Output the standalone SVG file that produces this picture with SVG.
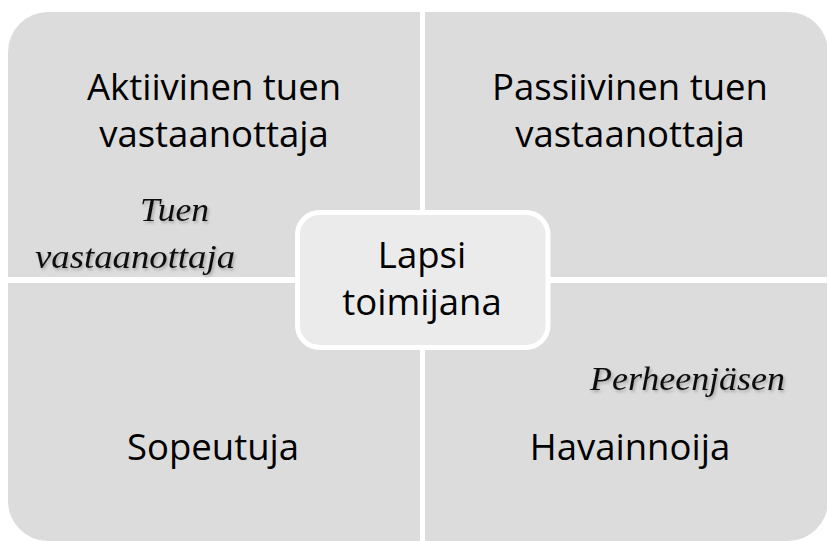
<svg xmlns="http://www.w3.org/2000/svg" width="827" height="541" viewBox="0 0 827 541">
  <defs>
    <style>
      .quad { fill: #dcdcdc; }
      .main { font-family: "Open Sans", "Noto Sans", sans-serif; font-size: 36.5px; fill: #000; text-anchor: middle; }
      .ital { font-family: "Liberation Serif", "Times New Roman", serif; font-style: italic; font-size: 34px; fill: #111; filter: url(#shadow); }
      .center { fill: #ebebeb; stroke: #ffffff; stroke-width: 5; }
    </style>
    <filter id="shadow" x="-10%" y="-30%" width="120%" height="160%">
      <feDropShadow dx="1.5" dy="2" stdDeviation="1.8" flood-color="#000" flood-opacity="0.25"/>
    </filter>
  </defs>
  <rect x="0" y="0" width="827" height="541" fill="#ffffff"/>

  <g id="q-aktiivinen">
    <path class="quad" d="M8,52 A40,40 0 0 1 48,12 H420 V277 H8 Z"/>
    <text class="main" x="214" y="100">Aktiivinen tuen</text>
    <text class="main" x="214" y="147">vastaanottaja</text>
  </g>

  <g id="q-passiivinen">
    <path class="quad" d="M425,12 H788 A40,40 0 0 1 828,52 V277 H425 Z"/>
    <text class="main" x="630" y="100">Passiivinen tuen</text>
    <text class="main" x="630" y="147">vastaanottaja</text>
  </g>

  <g id="q-sopeutuja">
    <path class="quad" d="M8,283 H420 V541 H48 A40,40 0 0 1 8,501 Z"/>
    <text class="main" x="213" y="460">Sopeutuja</text>
  </g>

  <g id="q-havainnoija">
    <path class="quad" d="M425,283 H828 V501 A40,40 0 0 1 788,541 H425 Z"/>
    <text class="main" x="630" y="460">Havainnoija</text>
  </g>

  <g id="label-tuen-vastaanottaja">
    <text class="ital" x="140" y="221" textLength="69" lengthAdjust="spacingAndGlyphs">Tuen</text>
    <text class="ital" x="35" y="268" textLength="200" lengthAdjust="spacingAndGlyphs">vastaanottaja</text>
  </g>

  <g id="label-perheenjasen">
    <text class="ital" x="590" y="390" textLength="195" lengthAdjust="spacingAndGlyphs">Perheenjäsen</text>
  </g>

  <g id="connectors"></g>

  <g id="n-lapsi">
    <rect class="center" x="297.5" y="212.5" width="250.5" height="135" rx="22" ry="22"/>
    <text class="main" x="422" y="268">Lapsi</text>
    <text class="main" x="422" y="315">toimijana</text>
  </g>
</svg>
